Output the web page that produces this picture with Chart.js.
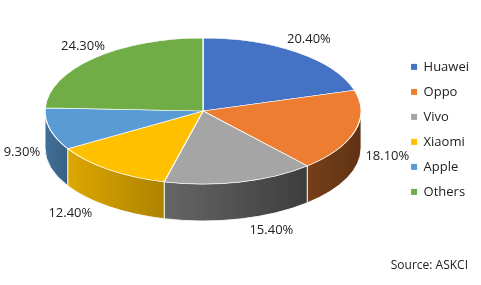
<!DOCTYPE html>
<html>

<head>
    <title>Smartphone Market Share</title>
    <script src="https://cdn.jsdelivr.net/npm/chart.js"></script>
    <style>
        body { margin: 0; background: #fff; }
    </style>
</head>

<body>

    <div style="width: 481px; height: 285px;">
        <canvas id="myChart"></canvas>
    </div>

    <script>
        // Market share by brand (%)
        const brands = ['Huawei', 'Oppo', 'Vivo', 'Xiaomi', 'Apple', 'Others'];
        const shares = [20.4, 18.1, 15.4, 12.4, 9.3, 24.3];
        const sourceText = 'Source: ASKCI';

        // Slice colours, and side wall shading (left factor, right factor)
        const topColors = ['#4472C4', '#ED7D31', '#A5A5A5', '#FFC000', '#5B9BD5', '#70AD47'];
        const wallShade = [[0.6, 0.45], [0.5, 0.4], [0.62, 0.37], [0.87, 0.68], [0.72, 0.62], [0.6, 0.5]];

        // Size of the tilted pie
        const rimWidth = 158, rimHeight = 73, wallDepth = 37;
        const fontFamily = "'Open Sans', sans-serif";
        const textColor = '#222';

        function shade(hex, f) {
            const n = parseInt(hex.slice(1), 16);
            const r = Math.round(((n >> 16) & 255) * f);
            const g = Math.round(((n >> 8) & 255) * f);
            const b = Math.round((n & 255) * f);
            return `rgb(${r},${g},${b})`;
        }

        function pieGeometry(chart) {
            const arcs = chart.getDatasetMeta(0).data;
            const first = arcs[0];
            return {
                arcs: arcs,
                cx: first.x,
                y0: first.y,
                r: first.outerRadius,
                cy: first.y - wallDepth / 2
            };
        }

        // Draws the side walls, then squashes the pie into an ellipse
        const tiltPlugin = {
            id: 'tilt',
            beforeDatasetsDraw(chart) {
                const ctx = chart.ctx;
                const g = pieGeometry(chart);
                g.arcs.forEach((arc, i) => {
                    const a1 = Math.max(arc.startAngle, 0);
                    const a2 = Math.min(arc.endAngle, Math.PI);
                    if (a2 <= a1) return;
                    const xLeft = g.cx + rimWidth * Math.cos(a2);
                    const xRight = g.cx + rimWidth * Math.cos(a1);
                    const grad = ctx.createLinearGradient(xLeft, 0, xRight, 0);
                    grad.addColorStop(0, shade(topColors[i], wallShade[i][0]));
                    grad.addColorStop(1, shade(topColors[i], wallShade[i][1]));
                    ctx.beginPath();
                    ctx.ellipse(g.cx, g.cy, rimWidth, rimHeight, 0, a1, a2);
                    ctx.ellipse(g.cx, g.cy + wallDepth, rimWidth, rimHeight, 0, a2, a1, true);
                    ctx.closePath();
                    ctx.fillStyle = grad;
                    ctx.fill();
                    ctx.strokeStyle = 'rgba(255,255,255,0.85)';
                    ctx.lineWidth = 1;
                    ctx.stroke();
                });
                ctx.save();
                ctx.translate(g.cx, g.cy);
                ctx.scale(rimWidth / g.r, rimHeight / g.r);
                ctx.translate(-g.cx, -g.y0);
            },
            afterDatasetsDraw(chart) {
                const ctx = chart.ctx;
                ctx.restore();
                const g = pieGeometry(chart);
                ctx.save();
                ctx.font = `13px ${fontFamily}`;
                ctx.fillStyle = textColor;
                ctx.textAlign = 'center';
                ctx.textBaseline = 'middle';
                g.arcs.forEach((arc, i) => {
                    const mid = (arc.startAngle + arc.endAngle) / 2;
                    const c = Math.cos(mid), s = Math.sin(mid);
                    const text = shares[i].toFixed(2) + '%';
                    const w = ctx.measureText(text).width;
                    const x = g.cx + rimWidth * (1 + 0.18 * s) * c + Math.sign(c) * (w / 2 + 3);
                    const y = g.cy + rimHeight * s +
                        (s > 0 ? wallDepth * Math.min(1, 0.4 + 0.65 * s) + 12 * s : 16 * s);
                    ctx.fillText(text, x, y);
                });
                ctx.restore();
            },
            afterDraw(chart) {
                const ctx = chart.ctx;
                ctx.save();
                ctx.font = `12px ${fontFamily}`;
                ctx.fillStyle = textColor;
                ctx.textAlign = 'right';
                ctx.textBaseline = 'middle';
                ctx.fillText(sourceText, chart.width - 13, chart.height - 19);
                ctx.restore();
            }
        };

        const ctx = document.getElementById('myChart').getContext('2d');

        const myChart = new Chart(ctx, {
            type: 'pie',
            data: {
                labels: brands,
                datasets: [{
                    data: shares,
                    backgroundColor: topColors,
                    borderColor: '#ffffff',
                    borderWidth: 1,
                    clip: false
                }]
            },
            options: {
                responsive: true,
                maintainAspectRatio: false,
                animation: false,
                events: [],
                layout: { padding: { left: 7, right: 2, bottom: 26 } },
                plugins: {
                    legend: {
                        position: 'right',
                        align: 'start',
                        title: {
                            display: true,
                            text: '',
                            font: { size: 12 },
                            padding: { top: 34, bottom: 0 }
                        },
                        labels: {
                            boxWidth: 6,
                            boxHeight: 6,
                            padding: 12,
                            color: textColor,
                            font: { family: fontFamily, size: 13 },
                            generateLabels(chart) {
                                const items = Chart.overrides.pie.plugins.legend.labels.generateLabels(chart);
                                items.forEach(item => { item.lineWidth = 0; });
                                return items;
                            }
                        }
                    },
                    tooltip: { enabled: false }
                }
            },
            plugins: [tiltPlugin]
        });
    </script>

</body>

</html>
